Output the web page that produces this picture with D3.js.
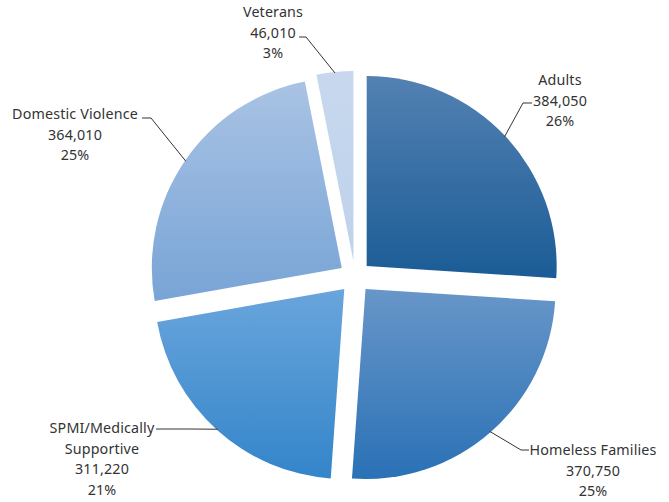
<!DOCTYPE html>
<html>
<head>
<meta charset="utf-8">
<script src="https://cdn.jsdelivr.net/npm/d3@7"></script>
<style>
  html, body { margin: 0; padding: 0; background: #ffffff; }
  svg { display: block; }
  text { font-family: "Noto Sans", "DejaVu Sans", sans-serif; font-size: 14.3px; letter-spacing: 0.15px; fill: #333333; }
</style>
</head>
<body>
<svg id="chart" width="669" height="502"></svg>
<script>
// ---- data ----
const categories = ["Adults", "Homeless Families", "SPMI/Medically Supportive", "Domestic Violence", "Veterans"];
const labelLines = [["Adults"], ["Homeless Families"], ["SPMI/Medically", "Supportive"], ["Domestic Violence"], ["Veterans"]];
const values = [384050, 370750, 311220, 364010, 46010];
const percentLabels = ["26%", "25%", "21%", "25%", "3%"];

// ---- styling / layout ----
const gradTop = ["#5381b2", "#6896c8", "#6aa5dc", "#a9c3e4", "#c7d8ee"];
const gradBottom = ["#1b5c96", "#2a71b6", "#3385ca", "#78a4d6", "#bfd2eb"];
// leader elbow, leader end, text centre x, first line centre y
const labelLayout = [
  { elbow: [523, 103], end: [532, 103], tx: 560, ty: 80 },
  { elbow: [521, 450], end: [529, 450], tx: 593, ty: 450 },
  { elbow: [190, 429], end: [156, 429], tx: 102, ty: 428 },
  { elbow: [151, 118], end: [142, 118], tx: 75, ty: 114 },
  { elbow: [306, 37], end: [299, 37], tx: 273, ty: 12 }
];

const cx = 355, cy = 277, R = 190, explode = 16, lineH = 20.5;
const fmt = d3.format(",");

const svg = d3.select("#chart");
const defs = svg.append("defs");
categories.forEach((c, i) => {
  const g = defs.append("linearGradient").attr("id", "g" + i)
    .attr("x1", 0).attr("y1", 0).attr("x2", 0).attr("y2", 1);
  g.append("stop").attr("offset", "0%").attr("stop-color", gradTop[i]);
  g.append("stop").attr("offset", "100%").attr("stop-color", gradBottom[i]);
});

const pie = d3.pie().sort(null).value(d => d);
const arcs = pie(values);
const arc = d3.arc().innerRadius(0).outerRadius(R);

const root = svg.append("g").attr("transform", `translate(${cx},${cy})`);

// leaders first (under slices)
const leaders = svg.append("g");
arcs.forEach((a, i) => {
  const mid = (a.startAngle + a.endAngle) / 2;
  const ox = explode * Math.sin(mid), oy = -explode * Math.cos(mid);
  const px = cx + ox + (R - 1) * Math.sin(mid), py = cy + oy - (R - 1) * Math.cos(mid);
  const L = labelLayout[i];
  leaders.append("polyline")
    .attr("points", [[px, py], L.elbow, L.end].map(p => p.join(",")).join(" "))
    .attr("fill", "none").attr("stroke", "#333").attr("stroke-width", 1);
});

arcs.forEach((a, i) => {
  const mid = (a.startAngle + a.endAngle) / 2;
  const ox = explode * Math.sin(mid), oy = -explode * Math.cos(mid);
  root.append("path")
    .attr("transform", `translate(${ox},${oy})`)
    .attr("d", arc(a))
    .attr("fill", `url(#g${i})`);
});

// labels
const labels = svg.append("g").attr("text-anchor", "middle");
arcs.forEach((a, i) => {
  const L = labelLayout[i];
  const lines = labelLines[i].concat([fmt(values[i]), percentLabels[i]]);
  lines.forEach((t, k) => {
    labels.append("text")
      .attr("x", L.tx)
      .attr("y", L.ty + k * lineH)
      .attr("dy", "0.36em")
      .text(t);
  });
});
</script>
</body>
</html>
